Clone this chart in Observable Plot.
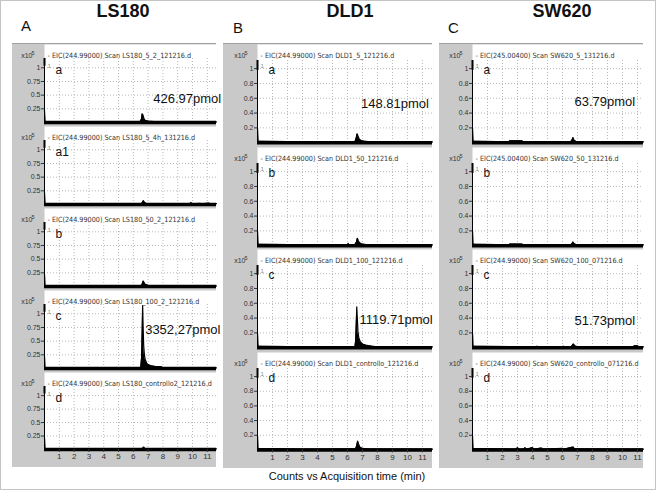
<!DOCTYPE html>
<html><head><meta charset="utf-8">
<script src="https://cdn.jsdelivr.net/npm/d3@7"></script>
<script src="https://cdn.jsdelivr.net/npm/@observablehq/plot@0.6"></script>
<style>
body{margin:0;background:#fff;}
#fig{position:relative;width:656px;height:491px;overflow:hidden;font-family:"Liberation Sans",Arial,sans-serif;color:#111;}
#border{position:absolute;left:0;top:0;width:654px;height:488px;border:1px solid #c4c4c4;}
.gray{position:absolute;background:#c9c9c9;border-top:1px solid #a0a0a0;}
.title{position:absolute;font-weight:bold;font-size:18px;transform:translateX(-50%);white-space:nowrap;}
.letter{position:absolute;font-size:15px;}
.xlabel{position:absolute;font-size:11px;transform:translateX(-50%);white-space:nowrap;}
.panel{position:absolute;}
</style></head><body><div id="fig"><div id="border"></div></div>
<script>
// ---------- data ----------
const columnKeys = ["A", "B", "C"];
const columnTitles = ["LS180", "DLD1", "SW620"];
const xTicks = [1, 2, 3, 4, 5, 6, 7, 8, 9, 10, 11];
const yTicksA = [0.25, 0.5, 0.75, 1];
const yTicksBC = [0.2, 0.4, 0.6, 0.8, 1];
const xAxisTitle = "Counts vs Acquisition time (min)";

const headersA = [
  "- EIC(244.99000) Scan LS180_5_2_121216.d",
  "- EIC(244.99000) Scan LS180_5_4h_131216.d",
  "- EIC(244.99000) Scan LS180_50_2_121216.d",
  "- EIC(244.99000) Scan LS180_100_2_121216.d",
  "- EIC(244.99000) Scan LS180_controllo2_121216.d"
];
const headersB = [
  "- EIC(244.99000) Scan DLD1_5_121216.d",
  "- EIC(244.99000) Scan DLD1_50_121216.d",
  "- EIC(244.99000) Scan DLD1_100_121216.d",
  "- EIC(244.99000) Scan DLD1_controllo_121216.d"
];
const headersC = [
  "- EIC(245.00400) Scan SW620_5_131216.d",
  "- EIC(245.00400) Scan SW620_50_131216.d",
  "- EIC(244.99000) Scan SW620_100_071216.d",
  "- EIC(244.99000) Scan SW620_controllo_071216.d"
];
const lettersA = ["a", "a1", "b", "c", "d"];
const lettersBC = ["a", "b", "c", "d"];

// traces: [time (min), counts (x10^5)]
const A_a = [[0,0.22],[0.04,0.02],[0.3,0.01],[2,0.012],[4,0.01],[6.45,0.012],[6.55,0.06],[6.6,0.16],[6.66,0.13],[6.72,0.07],[6.8,0.04],[7,0.025],[7.4,0.015],[8,0.01],[10,0.01],[11.62,0.01]];
const A_a1 = [[0,0.22],[0.04,0.02],[2,0.01],[6.55,0.01],[6.62,0.04],[6.68,0.07],[6.75,0.04],[6.9,0.015],[9.8,0.01],[9.9,0.035],[10,0.01],[10.5,0.02],[10.6,0.01],[11.1,0.025],[11.2,0.01],[11.62,0.015]];
const A_b = [[0,0.22],[0.04,0.02],[3,0.01],[6.55,0.012],[6.62,0.06],[6.67,0.1],[6.73,0.07],[6.8,0.04],[7,0.02],[7.5,0.012],[11.62,0.01]];
const A_c = [[0,0.22],[0.04,0.02],[3,0.01],[6.5,0.015],[6.56,0.2],[6.6,0.7],[6.63,1.15],[6.66,0.8],[6.7,0.42],[6.75,0.25],[6.8,0.17],[6.9,0.1],[7,0.07],[7.2,0.05],[7.5,0.035],[7.9,0.03],[8,0.015],[11.62,0.01]];
const A_d = [[0,0.22],[0.04,0.02],[3,0.01],[6.6,0.012],[6.7,0.045],[6.78,0.02],[7,0.012],[11.62,0.01]];

const B_a = [[0,0.2],[0.04,0.02],[3,0.01],[6.5,0.012],[6.58,0.06],[6.64,0.12],[6.7,0.09],[6.78,0.05],[6.9,0.03],[7.1,0.02],[7.5,0.012],[11.67,0.01]];
const B_b = [[0,0.2],[0.04,0.02],[3,0.01],[6,0.012],[6.05,0.03],[6.1,0.012],[6.5,0.015],[6.6,0.05],[6.66,0.1],[6.72,0.07],[6.8,0.04],[7,0.02],[7.4,0.012],[11.67,0.01]];
const B_c = [[0,0.2],[0.04,0.02],[3,0.01],[6.5,0.015],[6.55,0.1],[6.59,0.35],[6.62,0.55],[6.65,0.42],[6.7,0.22],[6.75,0.14],[6.85,0.08],[7,0.05],[7.3,0.03],[7.6,0.02],[8,0.012],[11.67,0.01]];
const B_d = [[0,0.2],[0.04,0.02],[3,0.01],[6.55,0.015],[6.62,0.06],[6.68,0.12],[6.74,0.08],[6.82,0.04],[7,0.02],[7.4,0.012],[11.67,0.01]];

const C_a = [[0,0.2],[0.04,0.02],[2.4,0.01],[2.5,0.025],[3.3,0.025],[3.4,0.01],[6.55,0.012],[6.65,0.04],[6.7,0.07],[6.76,0.035],[6.9,0.015],[11.4,0.01]];
const C_b = [[0,0.2],[0.04,0.02],[2.4,0.01],[2.5,0.022],[3.3,0.022],[3.4,0.01],[6.55,0.012],[6.65,0.03],[6.7,0.05],[6.76,0.03],[6.9,0.015],[11.4,0.01]];
const C_c = [[0,0.2],[0.04,0.02],[4.2,0.01],[4.3,0.02],[4.4,0.01],[6,0.01],[6.05,0.02],[6.1,0.01],[6.6,0.015],[6.72,0.05],[6.85,0.02],[7,0.015],[10.7,0.01],[10.8,0.025],[11,0.025],[11.1,0.01],[11.4,0.01]];
const C_d = [[0,0.2],[0.04,0.02],[2.9,0.01],[3,0.03],[3.1,0.01],[3.4,0.01],[3.5,0.03],[3.6,0.01],[4,0.03],[4.1,0.01],[4.6,0.025],[4.7,0.01],[6,0.02],[6.1,0.01],[6.7,0.04],[6.8,0.015],[11.4,0.01]];

// amount labels: panel index, anchor time, anchor counts, text
const pmolA = [{panel: 0, t: 7.35, v: 0.36, text: "426.97pmol"}, {panel: 3, t: 6.8, v: 0.63, text: "3352,27pmol"}];
const pmolB = [{panel: 0, t: 6.9, v: 0.47, text: "148.81pmol"}, {panel: 2, t: 6.8, v: 0.32, text: "1119.71pmol"}];
const pmolC = [{panel: 0, t: 6.8, v: 0.5, text: "63.79pmol"}, {panel: 2, t: 6.8, v: 0.31, text: "51.73pmol"}];

// ---------- layout ----------
const columns = [
  {left: 12, right: 216, frameLeft: 44, xMax: 11.62, top: 43, bottom: 466, pitch: 82, marginTop: 15, marginBottom: 3, yMax: 1.17,
   yTicks: yTicksA, headers: headersA, letters: lettersA, traces: [A_a, A_a1, A_b, A_c, A_d], pmol: pmolA,
   titleX: 123, letterX: 21},
  {left: 223, right: 432, frameLeft: 257, xMax: 11.67, top: 43, bottom: 467, pitch: 102.7, marginTop: 17, marginBottom: 3.5, yMax: 1.11,
   yTicks: yTicksBC, headers: headersB, letters: lettersBC, traces: [B_a, B_b, B_c, B_d], pmol: pmolB,
   titleX: 350, letterX: 233},
  {left: 439, right: 643, frameLeft: 472, xMax: 11.4, top: 43, bottom: 467, pitch: 102.7, marginTop: 17, marginBottom: 3.5, yMax: 1.11,
   yTicks: yTicksBC, headers: headersC, letters: lettersBC, traces: [C_a, C_b, C_c, C_d], pmol: pmolC,
   titleX: 562, letterX: 448}
];

const fig = document.getElementById("fig");
const narrow = "'Liberation Sans Narrow','DejaVu Sans Condensed','Arial Narrow',sans-serif";

columns.forEach((col, ci) => {
  const t = document.createElement("div");
  t.className = "title"; t.textContent = columnTitles[ci];
  t.style.left = col.titleX + "px"; t.style.top = "1px";
  fig.appendChild(t);
  const l = document.createElement("div");
  l.className = "letter"; l.textContent = columnKeys[ci];
  l.style.left = col.letterX + "px"; l.style.top = (ci === 0 ? 17 : 19) + "px";
  fig.appendChild(l);
  const g = document.createElement("div");
  g.className = "gray";
  g.style.left = col.left + "px"; g.style.top = col.top + "px";
  g.style.width = (col.right - col.left) + "px"; g.style.height = (col.bottom - col.top) + "px";
  fig.appendChild(g);

  const n = col.traces.length;
  const width = col.right - col.left;
  const marginLeft = col.frameLeft - col.left;
  col.traces.forEach((trace, i) => {
    const last = i === n - 1;
    const top = col.top + i * col.pitch;
    const marginBottom = last ? col.marginBottom + 14 : col.marginBottom;
    const height = last ? (col.bottom - top) : col.pitch;
    const mt = col.marginTop;
    const labels = col.pmol.filter(d => d.panel === i);
    const marks = [
      Plot.frame({fill: "white", stroke: null, insetTop: -(mt - 1)}),
      Plot.gridX(xTicks, {stroke: "#b8b8b8", strokeOpacity: 1, strokeDasharray: "1,2"}),
      Plot.gridY(col.yTicks, {stroke: "#b8b8b8", strokeOpacity: 1, strokeDasharray: "1,2"}),
      Plot.areaY(trace, {x: d => d[0], y: d => d[1], fill: "black", curve: "linear"}),
      Plot.lineY(trace, {x: d => d[0], y: d => d[1], stroke: "black", strokeWidth: 1.2}),
      Plot.ruleY([0], {stroke: "black", strokeWidth: 3.5}),
      Plot.ruleX([0], {stroke: "black", strokeWidth: 1}),
      Plot.ruleX([0], {y1: col.yMax * 0.88, y2: col.yMax, stroke: "black", strokeWidth: 2}),
      Plot.axisY(col.yTicks, {tickSize: 3, tickPadding: 1, fontSize: 7, stroke: "#333", fill: "#333", label: null, tickFormat: d3.format("")}),
      Plot.text(["x10"], {frameAnchor: "top-left", dx: -12, dy: 9.5 - mt, textAnchor: "end", fontSize: 7, fill: "#333"}),
      Plot.text(["5"], {frameAnchor: "top-left", dx: -10, dy: 8 - mt, textAnchor: "end", fontSize: 5.5, fill: "#333"}),
      Plot.text([col.headers[i]], {frameAnchor: "top-left", dx: 3, dy: 9.5 - mt, textAnchor: "start", fontSize: 7.2, fill: "#333", fontFamily: narrow}),
      Plot.text(["1"], {frameAnchor: "top-left", dx: 3, dy: 20.5 - mt, textAnchor: "start", fontSize: 6, fill: "#888"}),
      Plot.text([col.letters[i]], {frameAnchor: "top-left", dx: 11, dy: 22 - mt, textAnchor: "start", fontSize: 12, fill: "#111"}),
      Plot.text(labels, {x: "t", y: "v", text: "text", textAnchor: "start", lineAnchor: "bottom", fontSize: 13, fill: "#111"})
    ];
    if (last) marks.push(Plot.axisX(xTicks, {tickSize: 3, tickPadding: 1, fontSize: 8, stroke: "#333", fill: "#333", label: null}));
    const p = Plot.plot({
      width, height,
      marginLeft, marginRight: 0, marginTop: mt, marginBottom,
      x: {domain: [0, col.xMax], axis: null, label: null},
      y: {domain: [0, col.yMax], axis: null, label: null},
      style: {background: "transparent", fontFamily: "'Liberation Sans',Arial,sans-serif", overflow: "visible"},
      marks
    });
    p.classList.add("panel");
    p.style.left = col.left + "px";
    p.style.top = top + "px";
    fig.appendChild(p);
  });
});

const xl = document.createElement("div");
xl.className = "xlabel"; xl.textContent = xAxisTitle;
xl.style.left = "347px"; xl.style.top = "470px";
fig.appendChild(xl);
</script>
</body></html>
